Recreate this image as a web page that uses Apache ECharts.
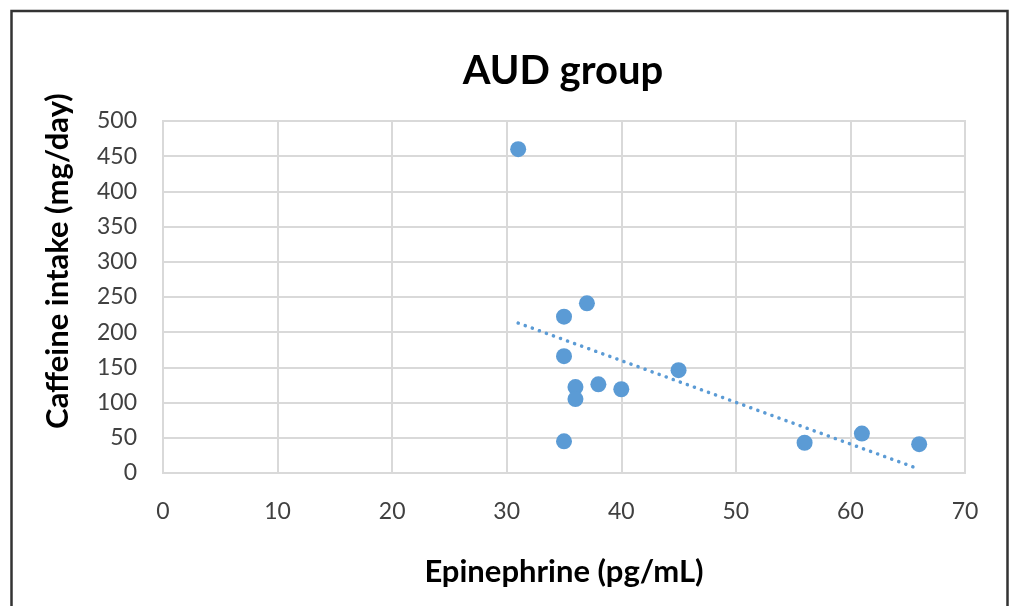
<!DOCTYPE html>
<html>
<head>
<meta charset="utf-8">
<script src="https://cdn.jsdelivr.net/npm/echarts@6/dist/echarts.min.js"></script>
<style>
html,body{margin:0;padding:0;background:#fff;}
#chart{width:1011px;height:606px;}
</style>
</head>
<body>
<div id="chart"></div>
<script>
const titleText = 'AUD group';
const xAxisName = 'Epinephrine (pg/mL)';
const yAxisName = 'Caffeine intake (mg/day)';
const epinephrine = [31, 35, 37, 35, 36, 36, 38, 40, 35, 45, 56, 61, 66];
const caffeine = [460, 222, 241, 166, 122, 105, 126, 119, 45, 146, 43, 56, 41];
const xTicks = [0, 10, 20, 30, 40, 50, 60, 70];
const yTicks = [0, 50, 100, 150, 200, 250, 300, 350, 400, 450, 500];

// linear least-squares trendline from the data
const n = epinephrine.length;
const mx = epinephrine.reduce((a, b) => a + b, 0) / n;
const my = caffeine.reduce((a, b) => a + b, 0) / n;
let sxy = 0, sxx = 0;
for (let i = 0; i < n; i++) {
  sxy += (epinephrine[i] - mx) * (caffeine[i] - my);
  sxx += (epinephrine[i] - mx) ** 2;
}
const slope = sxy / sxx;
const intercept = my - slope * mx;
const xMin = Math.min(...epinephrine), xMax = Math.max(...epinephrine);
const trend = [[xMin, intercept + slope * xMin], [xMax, intercept + slope * xMax]];

const font = 'Lato, "Open Sans", sans-serif';
const chart = echarts.init(document.getElementById('chart'));
chart.setOption({
  animation: false,
  backgroundColor: '#fff',
  title: {
    text: titleText, left: 558, top: 46, textAlign: 'center',
    textStyle: {fontFamily: font, fontSize: 40, fontWeight: 'bold', color: '#000'}
  },
  grid: {left: 163, right: 46, top: 121, bottom: 133, show: true, borderColor: '#d9d9d9', borderWidth: 2},
  xAxis: {
    type: 'value', min: xTicks[0], max: xTicks[xTicks.length - 1], interval: 10,
    name: xAxisName, nameLocation: 'middle', nameGap: 83,
    nameTextStyle: {fontFamily: font, fontSize: 31, fontWeight: 'bold', color: '#000'},
    axisLine: {show: true, lineStyle: {color: '#d9d9d9', width: 2}},
    axisTick: {show: false},
    axisLabel: {fontFamily: font, fontSize: 23, color: '#404040', margin: 27},
    splitLine: {show: true, lineStyle: {color: '#d9d9d9', width: 2}}
  },
  yAxis: {
    type: 'value', min: yTicks[0], max: yTicks[yTicks.length - 1], interval: 50,
    axisLine: {show: true, lineStyle: {color: '#d9d9d9', width: 2}},
    axisTick: {show: false},
    axisLabel: {fontFamily: font, fontSize: 23, color: '#404040', margin: 26},
    splitLine: {show: true, lineStyle: {color: '#d9d9d9', width: 2}}
  },
  graphic: [
    {type: 'rect', shape: {x: 11.5, y: 11, width: 996, height: 620}, style: {fill: 'none', stroke: '#333', lineWidth: 2.5}, silent: true},
    {type: 'text', x: 58, y: 261, rotation: Math.PI / 2,
     style: {text: yAxisName, fontFamily: font, fontSize: 31, fontWeight: 'bold', fill: '#000', align: 'center', verticalAlign: 'middle'}}
  ],
  series: [
    {type: 'scatter', data: epinephrine.map((x, i) => [x, caffeine[i]]), symbolSize: 16,
     itemStyle: {color: '#5b9bd5', opacity: 1}, z: 3},
    {type: 'line', data: trend, symbol: 'none', silent: true,
     lineStyle: {color: '#5b9bd5', width: 3.5, type: [0.1, 7.4], cap: 'round'}, z: 2}
  ]
});
</script>
</body>
</html>
